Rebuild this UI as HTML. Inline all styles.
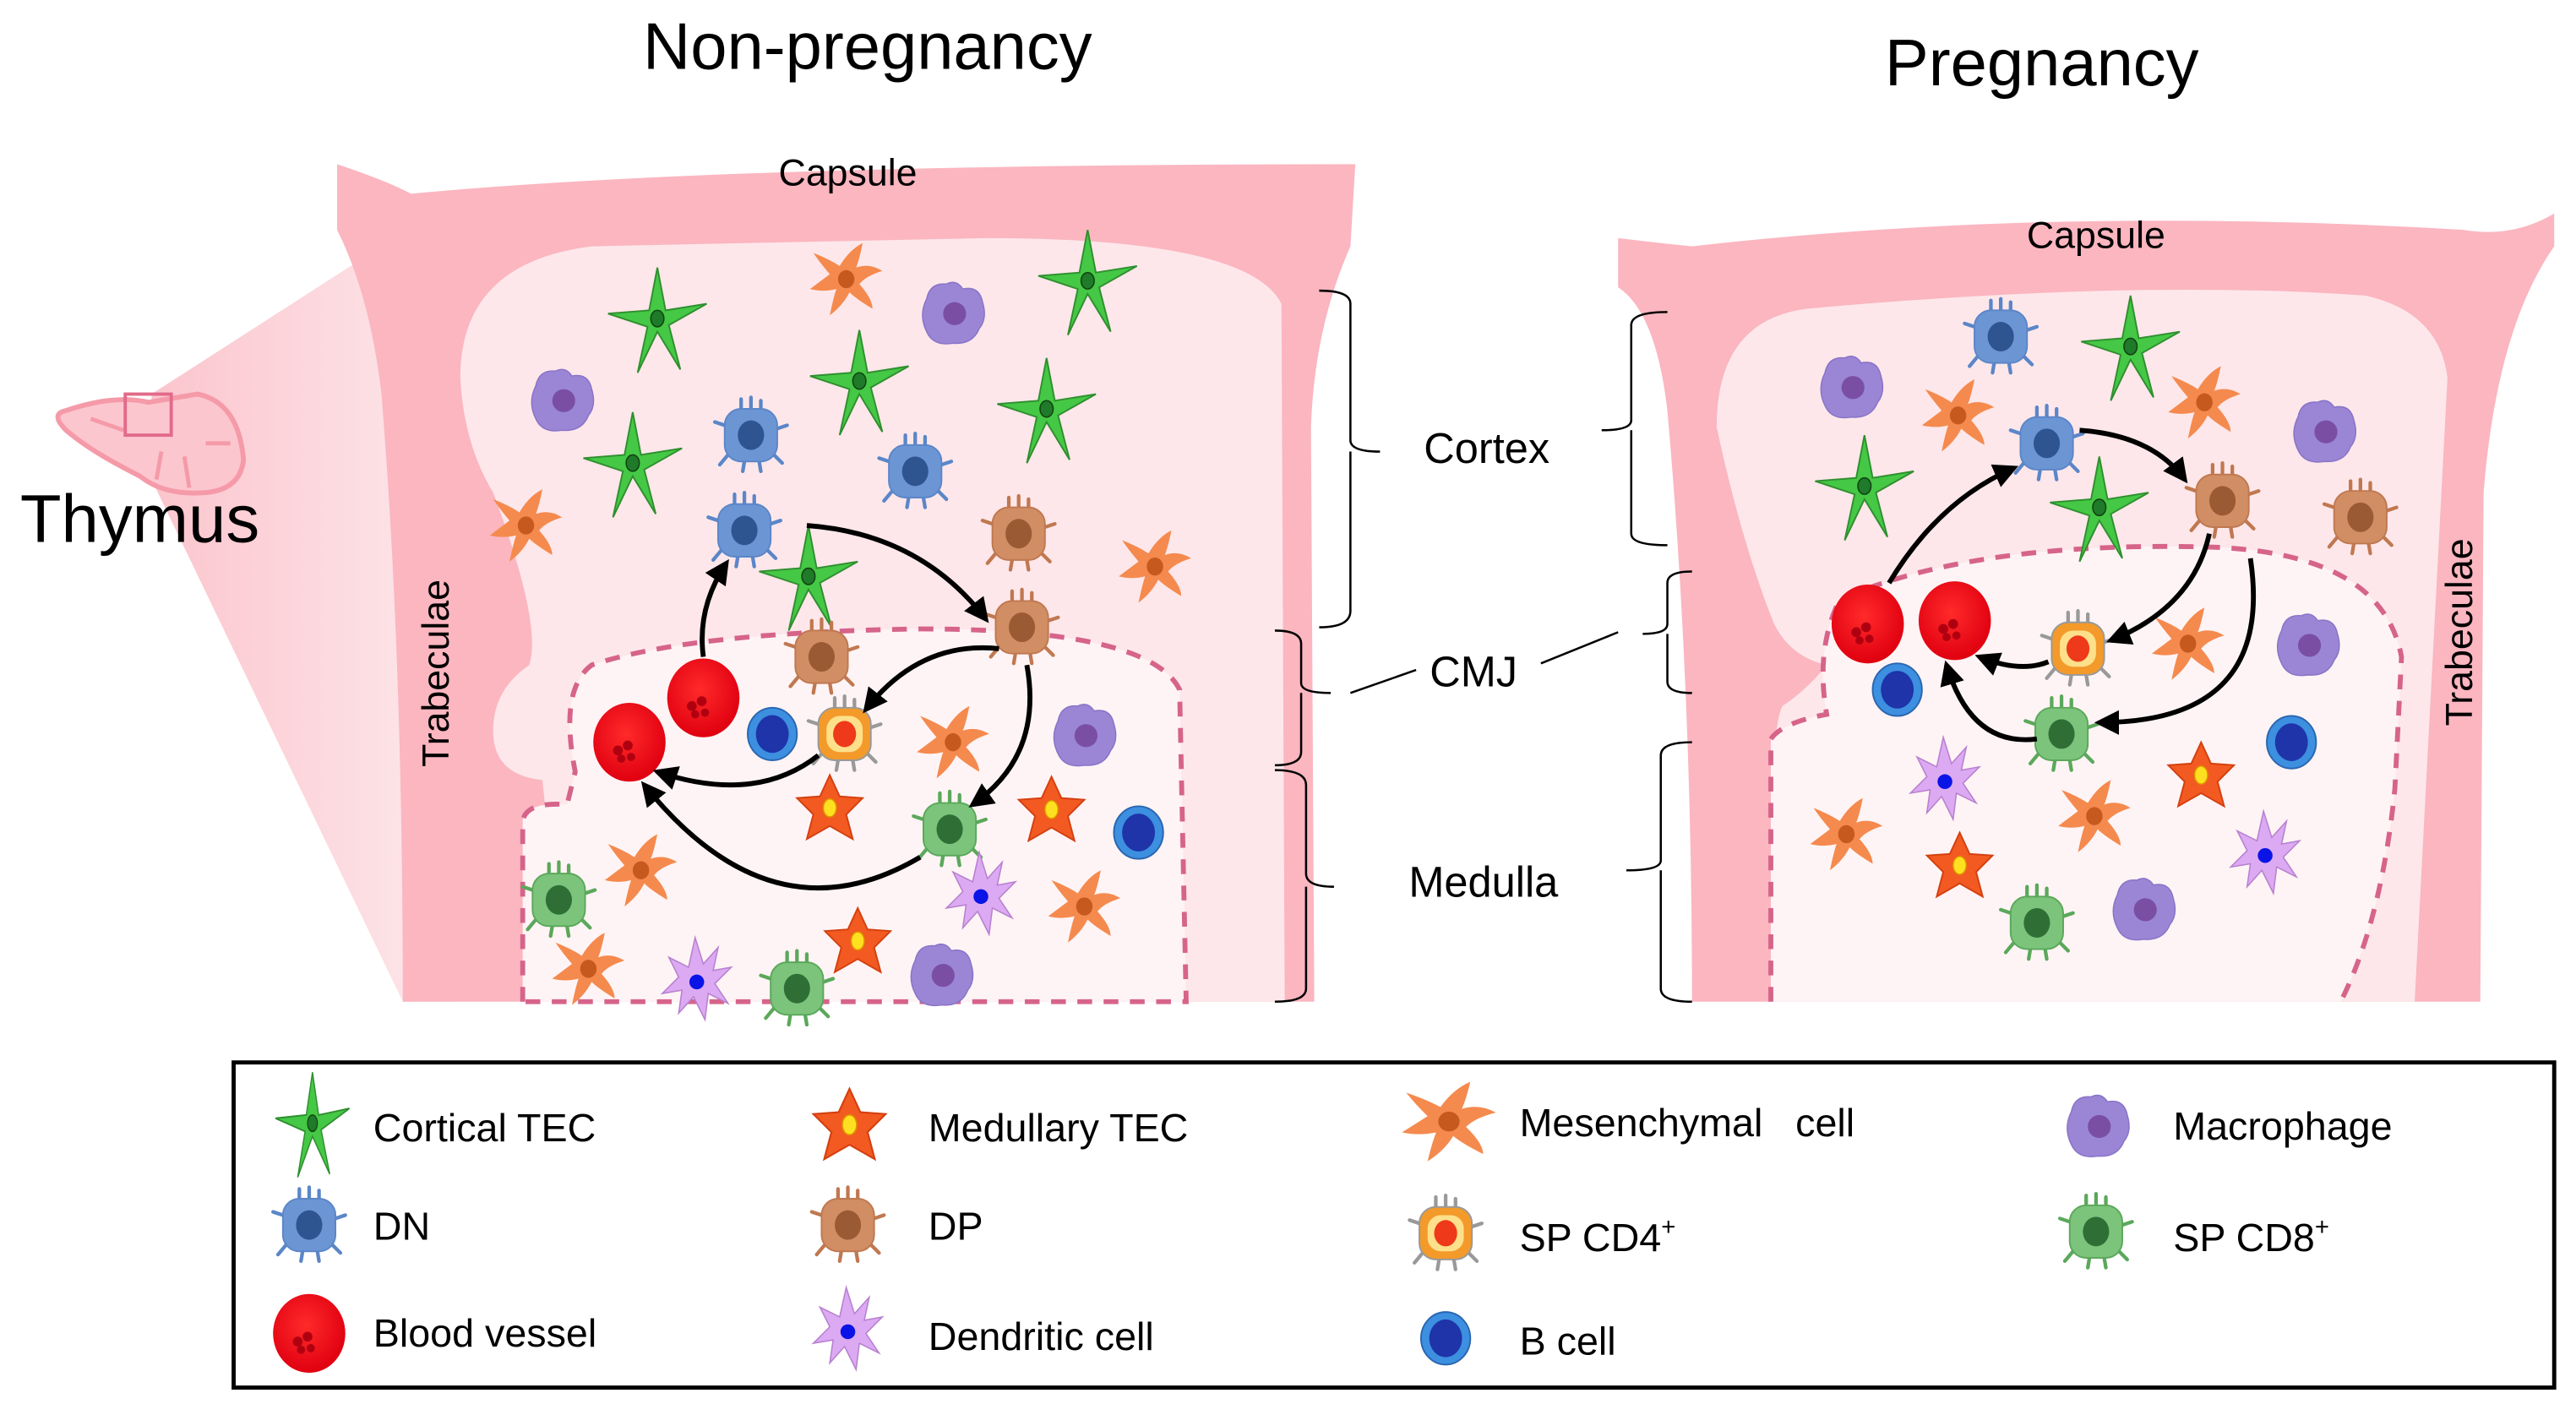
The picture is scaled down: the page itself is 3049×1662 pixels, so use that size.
<!DOCTYPE html>
<html><head><meta charset="utf-8"><style>
html,body{margin:0;padding:0;background:#fff}
svg{display:block}
text{font-family:"Liberation Sans",sans-serif;fill:#000}
</style></head><body>
<svg width="3049" height="1662" viewBox="0 0 1568 855" xmlns="http://www.w3.org/2000/svg">
<defs>
<linearGradient id="cone" x1="0" x2="1" y1="0" y2="0">
<stop offset="0" stop-color="#fbc5cd"/><stop offset="1" stop-color="#fde9ec"/></linearGradient>
<radialGradient id="bvg" cx="0.45" cy="0.4" r="0.6"><stop offset="0" stop-color="#ff2a2a"/><stop offset="1" stop-color="#e00010"/></radialGradient>
<marker id="ah" viewBox="0 0 10 10" refX="8" refY="5" markerWidth="5" markerHeight="5" orient="auto"><path d="M0,0 L10,5 L0,10 z" fill="#000"/></marker>
<g id="ctec"><path d="M0,-32 L5,-6 L30,-10 L7,3 L14,30 L0,7 L-12,32 L-6,4 L-30,-4 L-5,-6 z" fill="#45c845" stroke="#2f8f2f" stroke-width="1"/><ellipse cx="0" cy="-1" rx="4" ry="5" fill="#1f7a2a" stroke="#114411" stroke-width="0.8"/></g>
<g id="mtec"><path d="M0,-20 L6,-7 L20,-6 L10,4 L14,19 L0,11 L-14,19 L-10,4 L-20,-6 L-6,-7 z" fill="#f25a22" stroke="#d44010" stroke-width="1"/><ellipse cx="0" cy="0" rx="4" ry="5.5" fill="#ffe020" stroke="#e09000" stroke-width="0.8"/></g>
<g id="mes"><path d="M-4,-8 Q2,-18 10,-22 Q8,-12 6,-7 Q14,-10 22,-5 Q12,-2 8,3 Q16,12 16,18 Q6,12 2,8 Q-2,16 -10,22 Q-8,12 -6,6 Q-14,8 -22,6 Q-14,0 -10,-3 Q-16,-10 -20,-16 Q-10,-12 -4,-8 z" fill="#f58a4e"/><ellipse cx="0" cy="0" rx="5" ry="5.5" fill="#c65a1e"/></g>
<g id="mac"><path d="M-16,-8 Q-14,-18 -4,-17 Q2,-20 6,-14 Q16,-16 18,-6 Q21,4 16,10 Q12,20 0,19 Q-12,21 -16,12 Q-21,2 -16,-8 z" fill="#9b86d6" stroke="#8a74c8" stroke-width="0.8"/><circle cx="1" cy="1" r="7" fill="#7a4fa3"/></g>
<g id="tc"><g stroke-width="2.2" stroke-linecap="round"><path d="M-6,-16 L-6,-22 M0,-16 L0,-23 M6,-16 L6,-21 M-16,-6 L-22,-8 M16,-4 L22,-6 M-14,12 L-19,18 M14,12 L19,17 M-4,16 L-5,22 M5,16 L6,22"/></g><rect x="-16" y="-16" width="32" height="32" rx="10"/></g>
<g id="dn"><use href="#tc" stroke="#5b86c8" fill="#6c95d4"/><ellipse cx="0" cy="0" rx="8" ry="9" fill="#2f5590"/></g>
<g id="dp"><use href="#tc" stroke="#c07850" fill="#d18e64"/><ellipse cx="0" cy="0" rx="8" ry="9" fill="#9a5a34"/></g>
<g id="sp8"><use href="#tc" stroke="#5ba85b" fill="#7cc47c"/><ellipse cx="0" cy="0" rx="8" ry="9" fill="#2f6f36"/></g>
<g id="sp4"><use href="#tc" stroke="#999" fill="#f39a2a"/><rect x="-11" y="-11" width="22" height="22" rx="8" fill="#ffe08a"/><ellipse cx="0" cy="0" rx="7" ry="8" fill="#ee3a1a"/></g>
<g id="bv"><ellipse cx="0" cy="0" rx="22" ry="24" fill="url(#bvg)"/><g fill="#b00010"><circle cx="-7" cy="5" r="3"/><circle cx="-1" cy="2" r="3"/><circle cx="-5" cy="10" r="2.5"/><circle cx="1" cy="9" r="2.5"/></g></g>
<g id="bc"><ellipse cx="0" cy="0" rx="15" ry="16" fill="#3d8fe0" stroke="#2a66b0" stroke-width="1"/><ellipse cx="0" cy="0" rx="10" ry="11.5" fill="#1e34a8"/></g>
<g id="dc"><path d="M-2,-26 L3,-10 L12,-20 L9,-6 L20,-8 L10,2 L18,14 L6,8 L4,24 L-3,10 L-12,20 L-10,6 L-22,8 L-12,-2 L-18,-14 L-6,-8 z" fill="#dcaaf2" stroke="#b880d0" stroke-width="0.8"/><circle cx="-1" cy="1" r="4.5" fill="#0a14e6"/></g>
</defs>

<text x="528" y="42" font-size="40" text-anchor="middle">Non-pregnancy</text>
<text x="1243" y="52" font-size="40" text-anchor="middle">Pregnancy</text>

<polygon points="92,240 235,148 280,150 280,610 245,610 92,292" fill="url(#cone)"/>

<path d="M40,250 Q70,240 90,245 L120,240 Q145,245 148,280 Q146,298 125,300 Q100,302 85,290 Q55,275 40,262 Q30,252 40,250 z" fill="#fcc6cf" stroke="#f59aa8" stroke-width="3"/>
<path d="M55,255 L75,262 M95,292 L98,275 M115,297 L112,278 M140,270 L125,270" stroke="#f59aa8" stroke-width="2.5" fill="none"/>
<rect x="76" y="240" width="28" height="25" fill="none" stroke="#e26a8a" stroke-width="2"/>
<text x="12" y="330" font-size="41">Thymus</text>

<path d="M205,100 Q235,110 250,118 Q440,100 825,100 L822,150 Q800,200 798,260 L800,610 L245,610 Q245,400 232,240 Q225,180 205,140 z" fill="#fbb6c0"/>
<path d="M280,230 Q280,160 360,150 L600,145 Q760,145 780,185 L782,610 L340,610 Q335,520 330,475 Q300,472 300,445 Q300,420 322,405 Q330,380 300,300 Q282,270 280,230 z" fill="#fde7ea"/>
<path d="M318,610 L318,500 Q320,488 345,490 L350,470 Q340,420 360,405 Q420,385 560,383 Q700,383 718,420 L722,610 z" fill="#fff4f5"/>
<path d="M318,610 L318,500 Q320,488 345,490 L350,470 Q340,420 360,405 Q420,385 560,383 Q700,383 718,420 L722,610 z" fill="none" stroke="#d6648a" stroke-width="3" stroke-dasharray="9,7"/>
<text x="516" y="113" font-size="23" text-anchor="middle">Capsule</text>
<text transform="translate(273,410) rotate(-90)" font-size="23" text-anchor="middle">Trabeculae</text>

<use href="#ctec" x="400" y="195"/><use href="#ctec" x="662" y="172"/><use href="#ctec" x="523" y="233"/><use href="#ctec" x="637" y="250"/><use href="#ctec" x="385" y="283"/><use href="#ctec" x="492" y="352"/>
<use href="#mac" x="342" y="243"/><use href="#mac" x="580" y="190"/><use href="#mac" x="660" y="447"/><use href="#mac" x="573" y="593"/>
<use href="#mes" x="515" y="170"/><use href="#mes" x="320" y="320"/><use href="#mes" x="703" y="345"/><use href="#mes" x="580" y="452"/><use href="#mes" x="390" y="530"/><use href="#mes" x="660" y="552"/><use href="#mes" x="358" y="590"/>
<use href="#dn" x="457" y="265"/><use href="#dn" x="557" y="287"/><use href="#dn" x="453" y="323"/>
<use href="#dp" x="620" y="325"/><use href="#dp" x="622" y="382"/><use href="#dp" x="500" y="400"/>
<use href="#bv" x="428" y="425"/><use href="#bv" x="383" y="452"/>
<use href="#bc" x="470" y="447"/><use href="#bc" x="693" y="507"/>
<use href="#sp4" x="514" y="447"/>
<use href="#mtec" x="505" y="492"/><use href="#mtec" x="640" y="493"/><use href="#mtec" x="522" y="573"/>
<use href="#sp8" x="578" y="505"/><use href="#sp8" x="340" y="548"/><use href="#sp8" x="485" y="602"/>
<use href="#dc" x="598" y="545"/><use href="#dc" x="425" y="597"/>
<g fill="none" stroke="#000" stroke-width="3" marker-end="url(#ah)">
<path d="M428,400 Q424,370 442,343"/>
<path d="M491,320 Q560,325 600,377"/>
<path d="M608,395 Q560,390 527,432"/>
<path d="M625,405 Q635,460 592,490"/>
<path d="M498,460 Q460,490 400,470"/>
<path d="M560,522 Q470,575 392,478"/>
</g>

<path d="M985,145 Q1010,148 1030,150 Q1250,125 1500,140 Q1530,145 1555,130 L1555,150 Q1520,200 1512,300 L1510,610 L1030,610 Q1030,420 1015,250 Q1008,190 985,175 z" fill="#fbb6c0"/>
<path d="M1045,260 Q1045,195 1100,188 Q1300,170 1440,180 Q1485,190 1490,230 L1470,610 L1080,610 Q1075,450 1085,430 Q1100,420 1112,405 Q1090,400 1080,380 Q1060,330 1045,260 z" fill="#fde7ea"/>
<path d="M1078,610 L1078,450 Q1085,440 1112,435 Q1105,395 1120,365 Q1200,330 1340,333 Q1450,335 1462,400 L1458,480 Q1450,560 1425,610 z" fill="#fff4f5"/>
<path d="M1078,610 L1078,450 Q1085,440 1112,435 Q1105,395 1120,365 Q1200,330 1340,333 Q1450,335 1462,400 L1458,480 Q1450,560 1425,610" fill="none" stroke="#d6648a" stroke-width="3" stroke-dasharray="9,7"/>
<text x="1276" y="151" font-size="23" text-anchor="middle">Capsule</text>
<text transform="translate(1505,385) rotate(-90)" font-size="23" text-anchor="middle">Trabeculae</text>

<use href="#dn" x="1218" y="205"/><use href="#dn" x="1246" y="270"/>
<use href="#ctec" x="1297" y="212"/><use href="#ctec" x="1135" y="297"/><use href="#ctec" x="1278" y="310"/>
<use href="#mac" x="1127" y="235"/><use href="#mac" x="1415" y="262"/><use href="#mac" x="1405" y="392"/><use href="#mac" x="1305" y="553"/>
<use href="#mes" x="1192" y="253"/><use href="#mes" x="1342" y="245"/><use href="#mes" x="1332" y="392"/><use href="#mes" x="1124" y="508"/><use href="#mes" x="1275" y="497"/>
<use href="#dp" x="1353" y="305"/><use href="#dp" x="1437" y="315"/>
<use href="#bv" x="1137" y="380"/><use href="#bv" x="1190" y="378"/>
<use href="#bc" x="1155" y="420"/><use href="#bc" x="1395" y="452"/>
<use href="#sp4" x="1265" y="395"/>
<use href="#sp8" x="1255" y="447"/><use href="#sp8" x="1240" y="562"/>
<use href="#dc" x="1185" y="475"/><use href="#dc" x="1380" y="520"/>
<use href="#mtec" x="1340" y="472"/><use href="#mtec" x="1193" y="527"/>
<g fill="none" stroke="#000" stroke-width="3" marker-end="url(#ah)">
<path d="M1150,355 Q1180,305 1226,285"/>
<path d="M1266,262 Q1310,265 1330,292"/>
<path d="M1345,325 Q1335,370 1285,390"/>
<path d="M1370,340 Q1385,440 1278,440"/>
<path d="M1247,403 Q1230,410 1205,400"/>
<path d="M1240,450 Q1200,455 1185,405"/>
</g>

<g fill="none" stroke="#000" stroke-width="1.3">
<path d="M803,177 Q822,177 822,185 L822,268 Q822,275 840,275 M822,275 Q822,282 822,290 L822,372 Q822,382 803,382"/>
<path d="M776,384 Q792,384 792,392 L792,416 Q792,422 810,422 M792,422 L792,458 Q792,466 776,466"/>
<path d="M776,469 Q795,469 795,478 L795,532 Q795,540 812,540 M795,540 L795,602 Q795,610 776,610"/>
<path d="M1015,190 Q993,190 993,198 L993,256 Q993,262 975,262 M993,262 L993,325 Q993,332 1015,332"/>
<path d="M1030,348 Q1015,348 1015,355 L1015,380 Q1015,386 1000,386 M1015,386 L1015,415 Q1015,422 1030,422"/>
<path d="M1030,452 Q1011,452 1011,460 L1011,524 Q1011,530 990,530 M1011,530 L1011,602 Q1011,610 1030,610"/>
<path d="M822,422 L862,408 M938,404 L985,385"/>
</g>
<text x="905" y="282" font-size="26" text-anchor="middle">Cortex</text>
<text x="897" y="418" font-size="26" text-anchor="middle">CMJ</text>
<text x="903" y="546" font-size="26" text-anchor="middle">Medulla</text>

<rect x="142" y="647" width="1413" height="198" fill="#fff" stroke="#000" stroke-width="2.5"/>
<g font-size="24">
<use href="#ctec" transform="translate(190,685) scale(0.75,1)"/><text x="227" y="695">Cortical TEC</text>
<use href="#dn" x="188" y="746"/><text x="227" y="755">DN</text>
<use href="#bv" x="188" y="812"/><text x="227" y="820">Blood vessel</text>
<use href="#mtec" transform="translate(517,685) scale(1.1)"/><text x="565" y="695">Medullary TEC</text>
<use href="#dp" x="516" y="746"/><text x="565" y="755">DP</text>
<use href="#dc" x="517" y="810"/><text x="565" y="822">Dendritic cell</text>
<use href="#mes" transform="translate(882,683) scale(1.3,1.1)"/><text x="925" y="692">Mesenchymal&#160;&#160; cell</text>
<use href="#sp4" x="880" y="751"/><text x="925" y="762">SP CD4<tspan font-size="15" dy="-10">+</tspan></text>
<use href="#bc" x="880" y="815"/><text x="925" y="825">B cell</text>
<use href="#mac" x="1277" y="685"/><text x="1323" y="694">Macrophage</text>
<use href="#sp8" x="1276" y="750"/><text x="1323" y="762">SP CD8<tspan font-size="15" dy="-10">+</tspan></text>
</g>
</svg>
</body></html>
